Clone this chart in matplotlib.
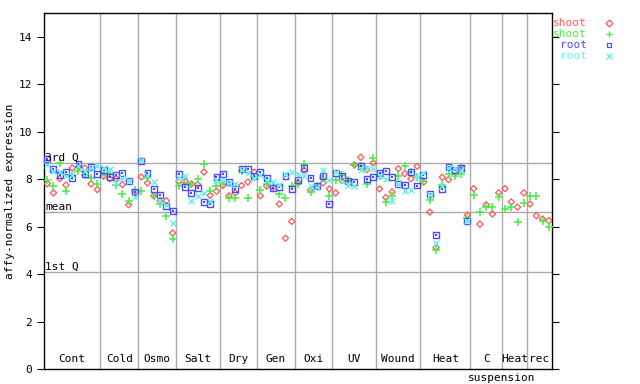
import numpy as np
import matplotlib
matplotlib.use("Agg")
import matplotlib.pyplot as plt

plt.rcParams['font.family'] = ['DejaVu Sans Mono']
plt.rcParams['font.size'] = 8

groups = ["Cont", "Cold", "Osmo", "Salt", "Dry", "Gen", "Oxi", "UV",
          "Wound", "Heat", "C", "Heat", "rec"]
group_sizes = [9, 6, 6, 7, 6, 6, 6, 7, 7, 8, 5, 4, 4]

nan = np.nan
shoot_a = [7.81, 7.42, 8.02, 7.75, 8.47, 8.51, 8.47, 7.80, 7.56,
           8.12, 8.02, 8.02, 7.77, 6.92, 7.46,
           8.09, 7.84, 7.30, 7.09, 7.09, 5.73,
           7.91, 7.91, 7.80, 7.77, 8.30, 7.32, 7.49,
           7.73, 7.30, 7.42, 7.73, 7.88, 8.30,
           7.30, 7.70, 7.66, 6.95, 5.51, 6.22,
           7.84, 8.36, 7.56, 7.70, 7.84, 7.59,
           7.42, 7.95, 7.84, 8.60, 8.92, 8.40, 8.68,
           7.59, 7.23, 7.46, 8.44, 8.23, 8.02, 8.54,
           7.87, 6.61, 5.12, 8.08, 7.98, 8.30, 8.47, 6.49,
           7.60, 6.10, 6.92, 6.53, 7.42,
           7.60, 7.04, 6.82, 7.42,
           6.95, 6.46, 6.32, 6.25]
shoot_b = [7.98, 7.71, 8.68, 7.51, 8.12, 8.36, 8.19, 8.05, 7.80,
           8.19, 8.22, 7.77, 7.37, 7.09, 7.56,
           7.51, 8.05, 7.30, 6.95, 6.43, 5.47,
           7.70, 7.80, 7.80, 8.02, 8.64, 7.49, 7.70,
           7.85, 7.20, 7.20, 8.35, 7.20, 8.10,
           7.56, 7.80, 7.77, 7.37, 7.20, 7.73,
           7.80, 8.65, 7.45, 7.73, 8.05, 7.30,
           7.98, 8.19, 7.98, 8.61, 8.54, 7.80, 8.89,
           8.12, 7.04, 7.27, 8.15, 8.54, 8.30, 8.10,
           7.91, 7.13, 5.02, 7.74, 8.22, 8.12, 8.22, 6.35,
           7.32, 6.61, 6.82, 6.82, 7.25,
           6.74, 6.82, 6.19, 6.99,
           7.27, 7.30, 6.22, 5.98]
root_a = [8.86, 8.43, 8.19, 8.32, 8.05, 8.64, 8.22, 8.50, 8.22,
          8.40, 8.08, 8.19, 8.26, 7.94, 7.46,
          8.75, 8.26, 7.60, 7.32, 6.88, 6.67,
          8.22, 7.67, 7.42, 7.63, 7.04, 6.95, 8.08,
          8.22, 7.87, 7.58, 8.44, 8.44, 8.12,
          8.29, 8.05, 7.63, 7.67, 8.15, 7.60,
          7.98, 8.47, 8.05, 7.70, 8.15, 6.95,
          8.26, 8.15, 7.91, 7.87, 8.57, 8.02, 8.09,
          8.26, 8.36, 8.09, 7.80, 7.75, 8.30, 7.73,
          8.19, 7.39, 5.65, 7.58, 8.51, 8.40, 8.47, 6.25,
          nan, nan, nan, nan, nan,
          nan, nan, nan, nan,
          nan, nan, nan, nan]
root_b = [8.61, 8.33, 8.30, 8.12, 8.19, 8.56, 8.33, 8.47, 8.54,
          8.47, 8.44, 7.84, 8.05, 7.91, 7.23,
          8.82, 8.19, 7.88, 7.09, 6.92, 6.15,
          8.05, 8.15, 7.06, 7.30, 7.42, 7.09, 7.98,
          7.98, 7.85, 7.80, 8.40, 8.26, 8.05,
          8.19, 7.98, 7.88, 7.77, 8.22, 8.30,
          8.22, 8.12, 7.70, 7.68, 8.38, 7.98,
          8.30, 7.93, 7.77, 7.70, 8.40, 8.47, 8.44,
          8.12, 8.00, 7.06, 7.80, 7.51, 7.55, 8.08,
          8.26, 7.35, 5.30, 7.70, 8.45, 8.47, 8.40, 6.25,
          nan, nan, nan, nan, nan,
          nan, nan, nan, nan,
          nan, nan, nan, nan]

q3, mean, q1 = 8.68, 6.61, 4.09

RED, GREEN, BLUE, CYAN = "#ff5555", "#44ee44", "#4a4aff", "#66f0f0"
GRID = "#aaaaaa"

fig = plt.figure(figsize=(6.4, 3.84), dpi=100)
ax = fig.add_axes([44/640, 15/384, 508/640, 356/384])

x = np.arange(len(shoot_a))
ax.set_xlim(-0.5, len(x) - 0.5)
ax.set_ylim(0, 15)

# group dividers and labels
edges = np.cumsum(group_sizes)
starts = edges - np.array(group_sizes)
for e in edges[:-1]:
    ax.axvline(e - 0.5, color=GRID, lw=1, zorder=1)
for g, s, e in zip(groups, starts, edges):
    ax.text((s + e - 1) / 2, 0.2, g, ha='center', va='bottom', fontsize=8)
c_idx = groups.index("C")
ax.text((starts[c_idx] + edges[c_idx] - 1) / 2 + 2.5, -0.15, "suspension",
        ha='center', va='top', fontsize=8, clip_on=False)

# quartile lines
for val, lab in [(q3, "3rd Q"), (mean, "mean"), (q1, "1st Q")]:
    ax.axhline(val, color=GRID, lw=1, zorder=1)
    ax.text(-0.35, val + 0.02, lab, ha='left', va='bottom', fontsize=8, zorder=5)

ax.scatter(x, shoot_a, marker='D', s=10, facecolors='none', edgecolors=RED, linewidths=0.9, zorder=3)
ax.scatter(x, shoot_b, marker='+', s=30, color=GREEN, linewidths=1.1, zorder=3)
ax.scatter(x, root_a, marker='s', s=18, facecolors='none', edgecolors=BLUE, linewidths=1.0, zorder=4)
ax.scatter(x, root_a, marker='s', s=1, color=BLUE, linewidths=0, zorder=4)
ax.scatter(x, root_b, marker='x', s=18, color=CYAN, linewidths=1.0, zorder=4)

ax.set_xticks([])
ax.set_yticks(np.arange(0, 15, 2))
ax.tick_params(axis='y', direction='out', length=5, right=True, labelsize=8)
for sp in ax.spines.values():
    sp.set_linewidth(1)
ax.set_ylabel("affy-normalized expression", fontsize=8, labelpad=3)

# legend on the right
legend_items = [("shoot", RED, 'D'), ("shoot", GREEN, '+'), ("root", BLUE, 's'), ("root", CYAN, 'x')]
for i, (lab, col, mk) in enumerate(legend_items):
    yy = 1 - (23 + 11 * i) / 384
    fig.text(587/640, yy, lab, color=col, ha='right', va='center', fontsize=8)
    if mk in ('+', 'x'):
        fig.add_artist(plt.Line2D([609/640], [yy], marker=mk, color=col, markersize=5, mew=1.0, ls='none'))
    else:
        fig.add_artist(plt.Line2D([609/640], [yy], marker=mk, markerfacecolor='none', markeredgecolor=col,
                                  markersize=3.5, mew=0.9, ls='none'))

fig.savefig("out.png", dpi=100)
